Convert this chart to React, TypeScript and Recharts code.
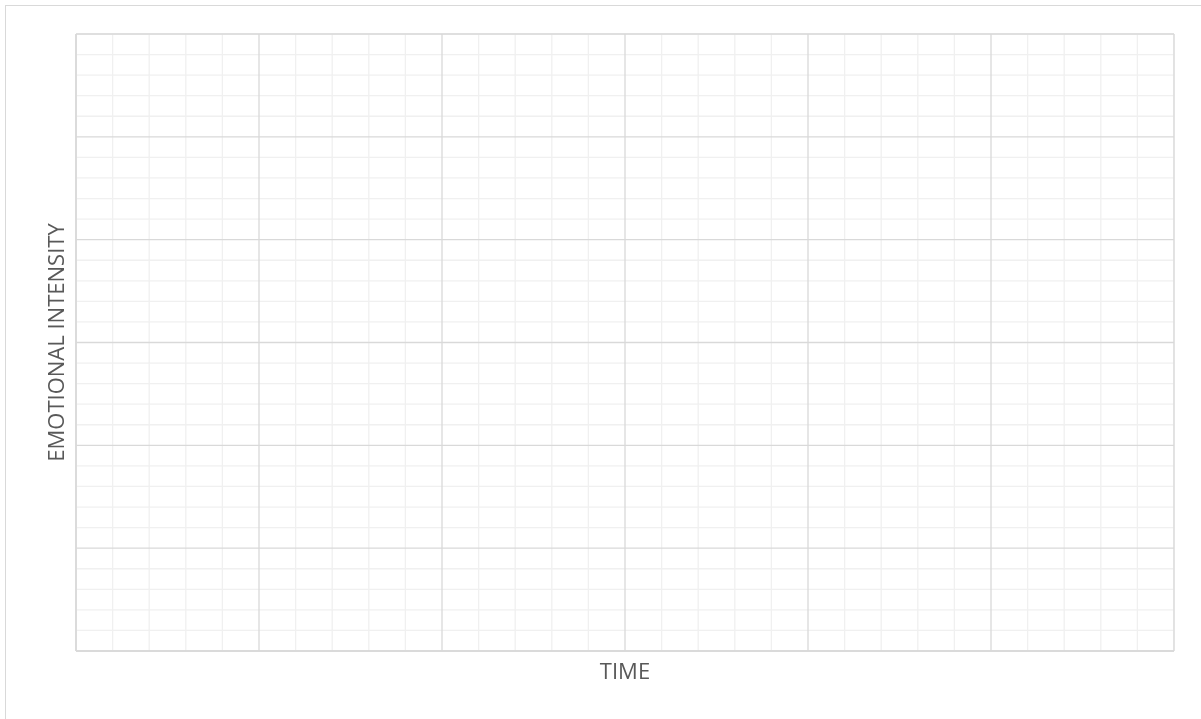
import { ScatterChart, Scatter, XAxis, YAxis, CartesianGrid } from "recharts";

// Blank template: time vs. emotional intensity, nothing plotted yet.
// The two corner points only fix the axis range; they are drawn invisible.
const axisRange = [
  { time: 0, intensity: 0 },
  { time: 6, intensity: 6 },
];

const majorTicks = [0, 1, 2, 3, 4, 5, 6];
// minor gridlines between the major ones
const minorTicks = [
  0.2, 0.4, 0.6, 0.8, 1.2, 1.4, 1.6, 1.8, 2.2, 2.4, 2.6, 2.8,
  3.2, 3.4, 3.6, 3.8, 4.2, 4.4, 4.6, 4.8, 5.2, 5.4, 5.6, 5.8,
];

const xTitle = "TIME";
const yTitle = "EMOTIONAL INTENSITY";

const FONT = "'Open Sans', 'Noto Sans', sans-serif";
const labelStyle = { fontFamily: FONT, fontSize: 22, fill: "#595959" };

const noShape = () => null;

export default function App() {
  return (
    <>
      {/* chart area border */}
      <div
        style={{
          position: "fixed",
          left: 5,
          top: 5,
          width: 1300,
          height: 800,
          border: "1.5px solid #d9d9d9",
          boxSizing: "border-box",
        }}
      />
      <div style={{ position: "fixed", left: 0, top: 0, width: 1201, height: 719 }}>
        <ScatterChart width={1201} height={719} margin={{ top: 34, right: 27, bottom: 28, left: 36 }}>
          <CartesianGrid xAxisId="minor" yAxisId="minor" stroke="#f0f0f0" strokeWidth={1.3} />
          <CartesianGrid xAxisId="major" yAxisId="major" stroke="#d9d9d9" strokeWidth={1.3} />

          {/* hidden axes that only feed the gridlines */}
          <XAxis xAxisId="major" type="number" dataKey="time" domain={[0, 6]} ticks={majorTicks} interval={0} hide />
          <XAxis xAxisId="minor" type="number" dataKey="time" domain={[0, 6]} ticks={minorTicks} interval={0} hide />
          <YAxis yAxisId="major" type="number" dataKey="intensity" domain={[0, 6]} ticks={majorTicks} interval={0} hide />
          <YAxis yAxisId="minor" type="number" dataKey="intensity" domain={[0, 6]} ticks={minorTicks} interval={0} hide />

          {/* visible frame axes: axis lines and titles, no tick labels */}
          <XAxis
            xAxisId="frame"
            type="number"
            dataKey="time"
            domain={[0, 6]}
            ticks={majorTicks}
            height={40}
            tick={false}
            tickLine={false}
            axisLine={{ stroke: "#d9d9d9", strokeWidth: 1.5 }}
            label={{ value: xTitle, position: "center", style: labelStyle }}
          />
          <YAxis
            yAxisId="frame"
            type="number"
            dataKey="intensity"
            domain={[0, 6]}
            ticks={majorTicks}
            width={40}
            tick={false}
            tickLine={false}
            axisLine={{ stroke: "#d9d9d9", strokeWidth: 1.5 }}
            label={{ value: yTitle, angle: -90, position: "center", style: labelStyle }}
          />

          <Scatter data={axisRange} xAxisId="major" yAxisId="major" shape={noShape} isAnimationActive={false} />
          <Scatter data={axisRange} xAxisId="minor" yAxisId="minor" shape={noShape} isAnimationActive={false} />
          <Scatter data={axisRange} xAxisId="frame" yAxisId="frame" shape={noShape} isAnimationActive={false} />
        </ScatterChart>
      </div>
    </>
  );
}
